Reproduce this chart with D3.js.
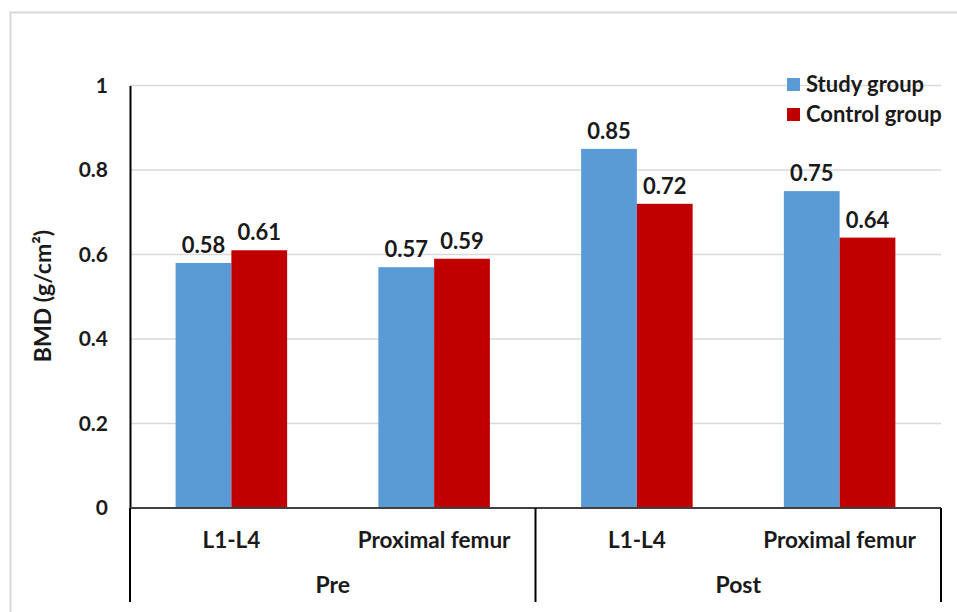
<!DOCTYPE html>
<html><head><meta charset="utf-8">
<script src="https://cdn.jsdelivr.net/npm/d3@7/dist/d3.min.js"></script>
<style>
html,body{margin:0;padding:0;background:#fff;}
svg{display:block;font-family:Lato,"Open Sans",sans-serif;font-weight:bold;}
</style></head>
<body>
<svg id="chart" width="957" height="612"></svg>
<script>
const groups = ["Pre", "Post"];
const sites = ["L1-L4", "Proximal femur"];
const seriesNames = ["Study group", "Control group"];
const studyValues = [0.58, 0.57, 0.85, 0.75];
const controlValues = [0.61, 0.59, 0.72, 0.64];
const yTicks = [0, 0.2, 0.4, 0.6, 0.8, 1];
const colors = ["#5b9bd5", "#c00000"];

const svg = d3.select("#chart");
const W = 957, H = 612;
const m = {left: 130, right: 16, top: 85.5, bottom: 104};
const plotR = W - m.right, plotB = H - m.bottom;

// outer frame
svg.append("rect").attr("x", 10.5).attr("y", 12.5).attr("width", 960).attr("height", 620)
  .attr("fill", "none").attr("stroke", "#d9d9d9").attr("stroke-width", 2);

const cats = [];
groups.forEach(g => sites.forEach(s => cats.push(g + "|" + s)));
const series = [studyValues, controlValues];

const x = d3.scaleBand().domain(cats).range([m.left, plotR]).paddingInner(0.45).paddingOuter(0.225);
const xs = d3.scaleBand().domain(seriesNames).range([0, x.bandwidth()]);
const y = d3.scaleLinear().domain([0, 1]).range([plotB, m.top]);

// gridlines
svg.append("g").selectAll("line").data(yTicks.filter(t => t > 0)).join("line")
  .attr("x1", m.left).attr("x2", plotR).attr("y1", d => y(d)).attr("y2", d => y(d))
  .attr("stroke", "#d9d9d9").attr("stroke-width", 1.5);

// bars
seriesNames.forEach((sn, si) => {
  svg.append("g").selectAll("rect").data(series[si]).join("rect")
    .attr("x", (d, i) => x(cats[i]) + xs(sn))
    .attr("width", xs.bandwidth())
    .attr("y", d => y(d)).attr("height", d => y(0) - y(d))
    .attr("fill", colors[si]);
  svg.append("g").selectAll("text").data(series[si]).join("text")
    .attr("x", (d, i) => x(cats[i]) + xs(sn) + xs.bandwidth() / 2)
    .attr("y", d => y(d) - 10)
    .attr("text-anchor", "middle").attr("font-size", 22).attr("fill", "#1a1a1a")
    .text(d => d.toFixed(2));
});

// y axis
const yAxis = d3.axisLeft(y).tickValues(yTicks).tickSize(0).tickPadding(22)
  .tickFormat(d => d === 0 || d === 1 ? String(d) : d.toFixed(1));
const ya = svg.append("g").attr("transform", `translate(${m.left},0)`).call(yAxis);
ya.select(".domain").attr("stroke", "#000").attr("stroke-width", 2);
ya.selectAll("text").attr("font-size", 21).attr("font-family", "Lato,sans-serif")
  .attr("font-weight", "bold").attr("fill", "#1a1a1a");

// x baseline
svg.append("line").attr("x1", m.left).attr("x2", plotR).attr("y1", y(0)).attr("y2", y(0))
  .attr("stroke", "#404040").attr("stroke-width", 2);

// category labels
svg.append("g").selectAll("text").data(cats).join("text")
  .attr("x", d => x(d) + x.bandwidth() / 2).attr("y", plotB + 40)
  .attr("text-anchor", "middle").attr("font-size", 22.5).attr("fill", "#1a1a1a")
  .text(d => d.split("|")[1]);

// group separators and labels
const step = x.step();
const groupEdges = [m.left, m.left + 2 * step, plotR];
svg.append("g").selectAll("line").data(groupEdges).join("line")
  .attr("x1", d => d).attr("x2", d => d).attr("y1", plotB).attr("y2", 602)
  .attr("stroke", "#000").attr("stroke-width", 2);
svg.append("g").selectAll("text").data(groups).join("text")
  .attr("x", (d, i) => (groupEdges[i] + groupEdges[i + 1]) / 2).attr("y", 593)
  .attr("text-anchor", "middle").attr("font-size", 23).attr("fill", "#1a1a1a")
  .text(d => d);

// y title
svg.append("text").attr("transform", "translate(51,296) rotate(-90)")
  .attr("text-anchor", "middle").attr("font-size", 23).attr("fill", "#1a1a1a")
  .text("BMD (g/cm²)");

// legend
const lg = svg.append("g");
seriesNames.forEach((sn, i) => {
  lg.append("rect").attr("x", 787).attr("y", 78 + i * 30).attr("width", 13).attr("height", 13).attr("fill", colors[i]);
  lg.append("text").attr("x", 806).attr("y", 92 + i * 30).attr("font-size", 22).attr("fill", "#1a1a1a").text(sn);
});
</script>
</body></html>
